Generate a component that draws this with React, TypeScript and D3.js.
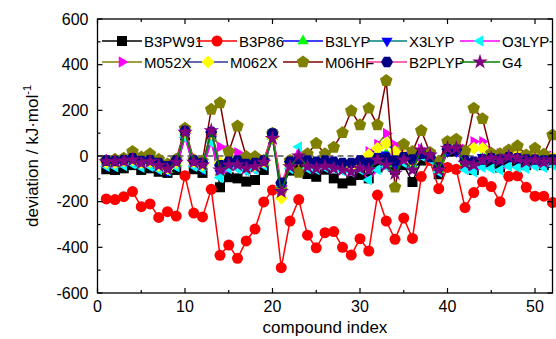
import React, { useEffect, useRef } from 'react';
import * as d3 from 'd3';

// compound index runs 1..52
const compoundIndex = d3.range(1, 53);

const seriesNames = ['B3PW91', 'B3P86', 'B3LYP', 'X3LYP', 'O3LYP', 'M052X', 'M062X', 'M06HF', 'B2PLYP', 'G4'];
const lineColors = ['#000000', '#ff0000', '#0000ff', '#008080', '#ff00ff', '#808000', '#333399', '#800000', '#ff3399', '#008000'];
const markerColors = ['#000000', '#ff0000', '#00ff00', '#0000ff', '#00ffff', '#ff00ff', '#ffff00', '#808000', '#000080', '#800080'];
const markerShapes = ['square', 'circle', 'up', 'down', 'left', 'right', 'diamond', 'pentagon', 'hexagon', 'star'];

const b3pw91 = [-58, -61, -54, -40, -61, -54, -69, -74, -61, 90, -58, -74, 85, -137, -93, -98, -112, -105, -61, 95,
  -140, -64, -39, -79, -91, -60, -98, -120, -108, -83, -98, -50, -30, -60, -40, -114, -20, -10, -80, 20,
  20, -40, -61, -30, -30, -50, -20, -30, -40, -30, -40, -30];
const b3p86 = [-188, -191, -178, -156, -222, -210, -269, -244, -263, -86, -250, -267, -146, -435, -390, -448, -372, -320, -201, -149,
  -489, -285, -191, -347, -402, -336, -331, -400, -434, -362, -416, -171, -285, -365, -272, -361, -90, -20, -143, -50,
  -58, -226, -160, -113, -134, -200, -89, -87, -137, -176, -176, -204];
const b3lyp = [-35, -38, -30, -20, -38, -32, -50, -60, -35, 95, -35, -50, 80, -70, -45, -40, -55, -50, -30, 85,
  -140, -40, -10, -40, -45, -35, -40, -50, -55, -40, -45, 5, 10, -35, -10, -40, 15, 0, -60, 25,
  25, -30, -35, 0, 0, -10, 5, 0, -15, -10, -20, -10];
const x3lyp = [-40, -42, -35, -25, -42, -38, -55, -68, -40, 90, -40, -55, 75, -75, -50, -45, -58, -52, -35, 80,
  -145, -45, -15, -45, -50, -40, -45, -55, -60, -45, -50, 0, 5, -40, -15, -45, 10, -5, -65, 20,
  20, -35, -40, -5, -5, -15, 0, -5, -20, -15, -25, -15];
const o3lyp = [-45, -48, -42, -35, -50, -45, -60, -65, -48, 80, -45, -58, 60, -95, -55, -55, -65, -60, -40, 75,
  -135, -55, 40, -55, -60, -50, -55, -65, -70, -60, -105, -60, -45, 40, -30, -55, 0, -15, -70, 30,
  30, -60, -70, -50, -55, -62, -45, -50, -55, -45, -50, -40];
const m052x = [-25, -28, -20, -10, -28, -22, -38, -50, -25, 100, -22, -35, 95, 40, 25, 15, -30, -35, -20, 90,
  -130, -30, -10, -30, -35, -25, -25, -35, -40, -20, 19, 51, 99, 48, 10, -20, 30, 10, -40, 40,
  40, 30, 63, 63, 20, 10, 15, 10, 0, 5, -5, 0];
const m062x = [-28, -30, -22, -15, -30, -25, -42, -55, -28, 105, -25, -38, 100, -30, -20, -25, -40, -40, -25, 80,
  -185, -35, -15, -35, -40, -30, -30, -40, -45, -25, 5, 34, 55, 20, 0, -25, 20, 0, -50, 35,
  35, 20, 34, 34, 10, 0, 10, 5, -5, 0, -10, -5];
const m06hf = [-20, -15, -10, 19, -5, 9, -15, -35, -15, 121, -17, -22, 204, 233, 19, 131, -3, -3, -20, 99,
  -149, -20, -72, 9, 55, 9, 38, 102, 198, 136, 209, 136, 330, -137, 51, 19, 111, 15, -25, 63,
  73, 22, 209, 163, 12, 9, 26, 44, 4, 34, 7, 92];
const b2plyp = [-20, -22, -18, -10, -22, -18, -30, -45, -20, 110, -20, -30, 105, -40, -25, -20, -35, -30, -20, 99,
  -117, -25, -15, -20, -25, -20, -25, -30, -30, -20, -29, -10, -10, -20, -5, -15, 10, -5, -50, 30,
  28, -20, -25, -15, -10, -15, -5, -10, -15, -15, -20, -15];
const g4 = [-25, -25, -22, -18, -31, -25, -42, -57, -27, 104, -27, -39, 111, -61, -39, -39, -54, -47, -28, 77,
  -156, -47, 0, -47, -54, -45, -54, -61, -69, -54, -61, -18, -40, -76, -18, -61, 26, 4, -61, 34,
  34, -32, -39, -18, -10, -18, -3, -10, -25, -18, -28, -18];

const seriesValues = [b3pw91, b3p86, b3lyp, x3lyp, o3lyp, m052x, m062x, m06hf, b2plyp, g4];

const xTicks = [0, 10, 20, 30, 40, 50];
const yTicks = [-600, -400, -200, 0, 200, 400, 600];

const polygon = (n, r, rot) => {
  const pts = d3.range(n).map(k => {
    const a = rot + (2 * Math.PI * k) / n;
    return [r * Math.cos(a), r * Math.sin(a)];
  });
  return 'M' + pts.map(p => p[0].toFixed(2) + ',' + p[1].toFixed(2)).join('L') + 'Z';
};

const markerPath = (shape) => {
  switch (shape) {
    case 'square': return 'M-5,-5H5V5H-5Z';
    case 'circle': return d3.symbol(d3.symbolCircle, 95)();
    case 'up': return polygon(3, 6.5, -Math.PI / 2);
    case 'down': return polygon(3, 6.5, Math.PI / 2);
    case 'left': return polygon(3, 6.5, Math.PI);
    case 'right': return polygon(3, 6.5, 0);
    case 'diamond': return polygon(4, 6.5, 0);
    case 'pentagon': return polygon(5, 6.6, -Math.PI / 2);
    case 'hexagon': return polygon(6, 6, 0);
    case 'star': return d3.symbol(d3.symbolStar, 75)();
    default: return polygon(4, 5, Math.PI / 4);
  }
};

// legend slot positions (line start x, row y)
const legendSlots = [[102, 41], [197, 41], [283, 41], [367, 41], [460, 41],
  [102, 62], [188, 62], [283, 62], [367, 62], [460, 62]];

const App = () => {
  const svgRef = useRef();

  useEffect(() => {
    const width = 556;
    const height = 339;
    const left = 97.5, right = 552.5, top = 19, bottom = 293;
    const font = 'Liberation Sans, Arial, sans-serif';

    const svg = d3.select(svgRef.current)
      .attr('width', width)
      .attr('height', height);
    svg.selectAll('*').remove();

    const x = d3.scaleLinear().domain([0, 52]).range([left, right]);
    const y = d3.scaleLinear().domain([-600, 600]).range([bottom, top]);

    // zero reference line
    svg.append('line')
      .attr('x1', left).attr('x2', right)
      .attr('y1', y(0)).attr('y2', y(0))
      .attr('stroke', '#000').attr('stroke-width', 1.2)
      .attr('stroke-dasharray', '6,4');

    const plot = svg.append('g');
    const line = d3.line()
      .x((d, i) => x(compoundIndex[i]))
      .y(d => y(d));

    seriesValues.forEach((vals, s) => {
      const g = plot.append('g');
      g.append('path')
        .attr('d', line(vals))
        .attr('fill', 'none')
        .attr('stroke', lineColors[s])
        .attr('stroke-width', 1.5);
      g.selectAll('path.m')
        .data(vals)
        .join('path')
        .attr('class', 'm')
        .attr('d', markerPath(markerShapes[s]))
        .attr('transform', (d, i) => `translate(${x(compoundIndex[i])},${y(d)})`)
        .attr('fill', markerColors[s]);
    });

    // frame
    svg.append('rect')
      .attr('x', left).attr('y', top)
      .attr('width', right - left).attr('height', bottom - top)
      .attr('fill', 'none').attr('stroke', '#000').attr('stroke-width', 1.3);

    const ticks = svg.append('g').attr('stroke', '#000').attr('stroke-width', 1.2);
    d3.range(0, 53, 5).forEach(v => {
      const len = v % 10 === 0 ? 5 : 3;
      ticks.append('line').attr('x1', x(v)).attr('x2', x(v)).attr('y1', bottom).attr('y2', bottom - len);
      ticks.append('line').attr('x1', x(v)).attr('x2', x(v)).attr('y1', top).attr('y2', top + len);
    });
    d3.range(-600, 601, 100).forEach(v => {
      const len = v % 200 === 0 ? 5 : 3;
      ticks.append('line').attr('y1', y(v)).attr('y2', y(v)).attr('x1', left).attr('x2', left + len);
      ticks.append('line').attr('y1', y(v)).attr('y2', y(v)).attr('x1', right).attr('x2', right - len);
    });

    svg.append('g').selectAll('text')
      .data(xTicks)
      .join('text')
      .attr('x', d => x(d))
      .attr('y', bottom + 19)
      .attr('text-anchor', 'middle')
      .attr('font-family', font)
      .attr('font-size', 16)
      .text(d => d);

    svg.append('g').selectAll('text')
      .data(yTicks)
      .join('text')
      .attr('x', left - 9)
      .attr('y', d => y(d) + 5.5)
      .attr('text-anchor', 'end')
      .attr('font-family', font)
      .attr('font-size', 16)
      .text(d => d);

    svg.append('text')
      .attr('x', (left + right) / 2)
      .attr('y', 333)
      .attr('text-anchor', 'middle')
      .attr('font-family', font)
      .attr('font-size', 17)
      .text('compound index');

    const yl = svg.append('text')
      .attr('transform', `translate(38,${(top + bottom) / 2}) rotate(-90)`)
      .attr('text-anchor', 'middle')
      .attr('font-family', font)
      .attr('font-size', 17);
    yl.append('tspan').text('deviation / kJ·mol');
    yl.append('tspan').attr('dy', -7).attr('font-size', 11).text('-1');

    // legend
    const legend = svg.append('g');
    seriesNames.forEach((name, s) => {
      const [lx, ly] = legendSlots[s];
      const g = legend.append('g');
      g.append('line')
        .attr('x1', lx).attr('x2', lx + 40)
        .attr('y1', ly).attr('y2', ly)
        .attr('stroke', lineColors[s]).attr('stroke-width', 1.5);
      g.append('path')
        .attr('d', markerPath(markerShapes[s]))
        .attr('transform', `translate(${lx + 20},${ly})`)
        .attr('fill', markerColors[s]);
      g.append('text')
        .attr('x', lx + 42)
        .attr('y', ly + 5.5)
        .attr('font-family', font)
        .attr('font-size', 15)
        .text(name);
    });
  }, []);

  return (
    <svg ref={svgRef} style={{ position: 'absolute', left: 0, top: 0 }}></svg>
  );
};

export default App;
